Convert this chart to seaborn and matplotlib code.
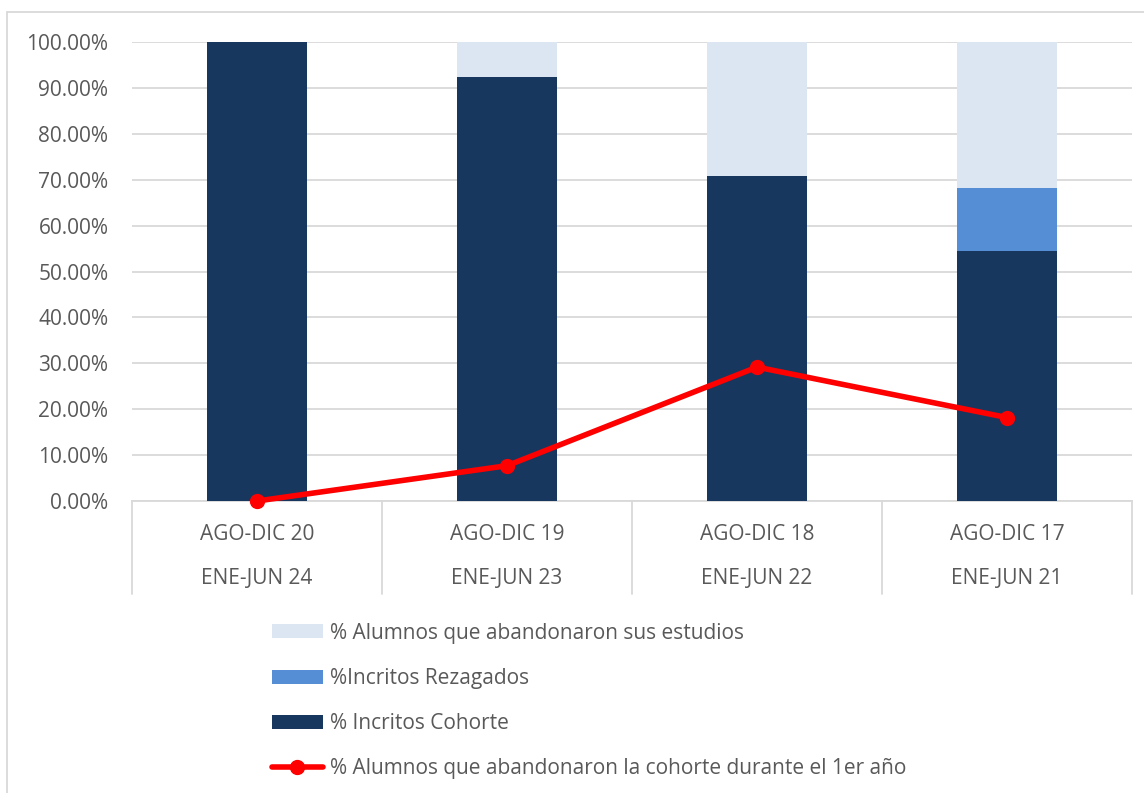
import matplotlib
matplotlib.use("Agg")
import matplotlib.pyplot as plt
import matplotlib.transforms as mtransforms
from matplotlib.lines import Line2D
from matplotlib.patches import Patch
import seaborn as sns
import pandas as pd

# Cohort data (percent)
periodo_ingreso = ["AGO-DIC 20", "AGO-DIC 19", "AGO-DIC 18", "AGO-DIC 17"]
periodo_egreso = ["ENE-JUN 24", "ENE-JUN 23", "ENE-JUN 22", "ENE-JUN 21"]
inscritos_cohorte = [100.00, 92.31, 70.83, 54.55]
inscritos_rezagados = [0.00, 0.00, 0.00, 13.64]
abandonaron_estudios = [0.00, 7.69, 29.17, 31.82]
abandono_primer_anio = [0.00, 7.69, 29.17, 18.18]

series_names = [
    "% Alumnos que abandonaron sus estudios",
    "%Incritos Rezagados",
    "% Incritos Cohorte",
    "% Alumnos que abandonaron la cohorte durante el 1er año",
]

C_DARK = "#17375E"
C_MID = "#558ED5"
C_LIGHT = "#DCE6F2"
C_LINE = "#FF0000"
C_TEXT = "#595959"
C_GRID = "#D9D9D9"
FS = 15

sns.set_theme(style="white")
plt.rcParams["font.family"] = ["Open Sans", "DejaVu Sans"]

df = pd.DataFrame({
    "cat": periodo_ingreso,
    "cohorte": inscritos_cohorte,
    "rezagados": inscritos_rezagados,
    "abandono": abandonaron_estudios,
    "linea": abandono_primer_anio,
})
df["tope_rez"] = df["cohorte"] + df["rezagados"]
df["tope_total"] = df["tope_rez"] + df["abandono"]

fig = plt.figure(figsize=(11.44, 7.93), dpi=100)
ax = fig.add_axes([132 / 1144, 1 - 501 / 793, 1000 / 1144, 459 / 793])

# Stacked bars: draw cumulative totals from back to front
for col, colour, z in [("tope_total", C_LIGHT, 2), ("tope_rez", C_MID, 3),
                       ("cohorte", C_DARK, 4)]:
    sns.barplot(data=df, x="cat", y=col, color=colour, width=0.4,
                saturation=1, linewidth=0, ax=ax, zorder=z)

# Line series with markers
ax.plot(range(len(df)), df["linea"], color=C_LINE, lw=4, marker="o",
        markersize=10, zorder=6, clip_on=False)

ax.set_xlim(-0.5, 3.5)
ax.set_ylim(0, 100)
ax.set_yticks(range(0, 101, 10))
ax.set_yticklabels([f"{v:.2f}%" for v in range(0, 101, 10)])
ax.tick_params(axis="y", colors=C_TEXT, labelsize=FS, length=0, pad=17)
ax.tick_params(axis="x", length=0)
ax.set_xticklabels([])
ax.set_xlabel("")
ax.set_ylabel("")
ax.yaxis.grid(True, color=C_GRID, lw=1.3, zorder=0)
ax.set_axisbelow(True)
for s in ["top", "right", "left"]:
    ax.spines[s].set_visible(False)
ax.spines["bottom"].set_color(C_GRID)
ax.spines["bottom"].set_linewidth(1.3)

# Two-level category labels with separator lines
trans = mtransforms.blended_transform_factory(ax.transData, ax.transAxes)
y_bot = -93 / 459
for xb in [-0.5, 0.5, 1.5, 2.5, 3.5]:
    ax.add_line(Line2D([xb, xb], [0, y_bot], transform=trans, color=C_GRID,
                       lw=1.3, clip_on=False))
for i, (a, b) in enumerate(zip(periodo_ingreso, periodo_egreso)):
    ax.text(i, -33 / 459, a, transform=trans, ha="center", va="center",
            fontsize=FS, color=C_TEXT)
    ax.text(i, -78 / 459, b, transform=trans, ha="center", va="center",
            fontsize=FS, color=C_TEXT)

# Legend
handles = [
    Patch(facecolor=C_LIGHT, edgecolor="none"),
    Patch(facecolor=C_MID, edgecolor="none"),
    Patch(facecolor=C_DARK, edgecolor="none"),
    Line2D([0], [0], color=C_LINE, lw=4, marker="o", markersize=10),
]
fig.legend(handles, series_names, loc="upper left",
           bbox_to_anchor=(253 / 1144, 1 - 604 / 793), frameon=False,
           fontsize=FS, labelcolor=C_TEXT, handlelength=2.45,
           handleheight=0.65, labelspacing=1.16, handletextpad=0.33)

# Chart area border (top and left edges)
fig.add_artist(Line2D([7 / 1144, 7 / 1144], [0, 1 - 12 / 793],
                      transform=fig.transFigure, color=C_GRID, lw=1.3))
fig.add_artist(Line2D([7 / 1144, 1], [1 - 12 / 793, 1 - 12 / 793],
                      transform=fig.transFigure, color=C_GRID, lw=1.3))

fig.savefig("out.png", dpi=100, facecolor="white")
